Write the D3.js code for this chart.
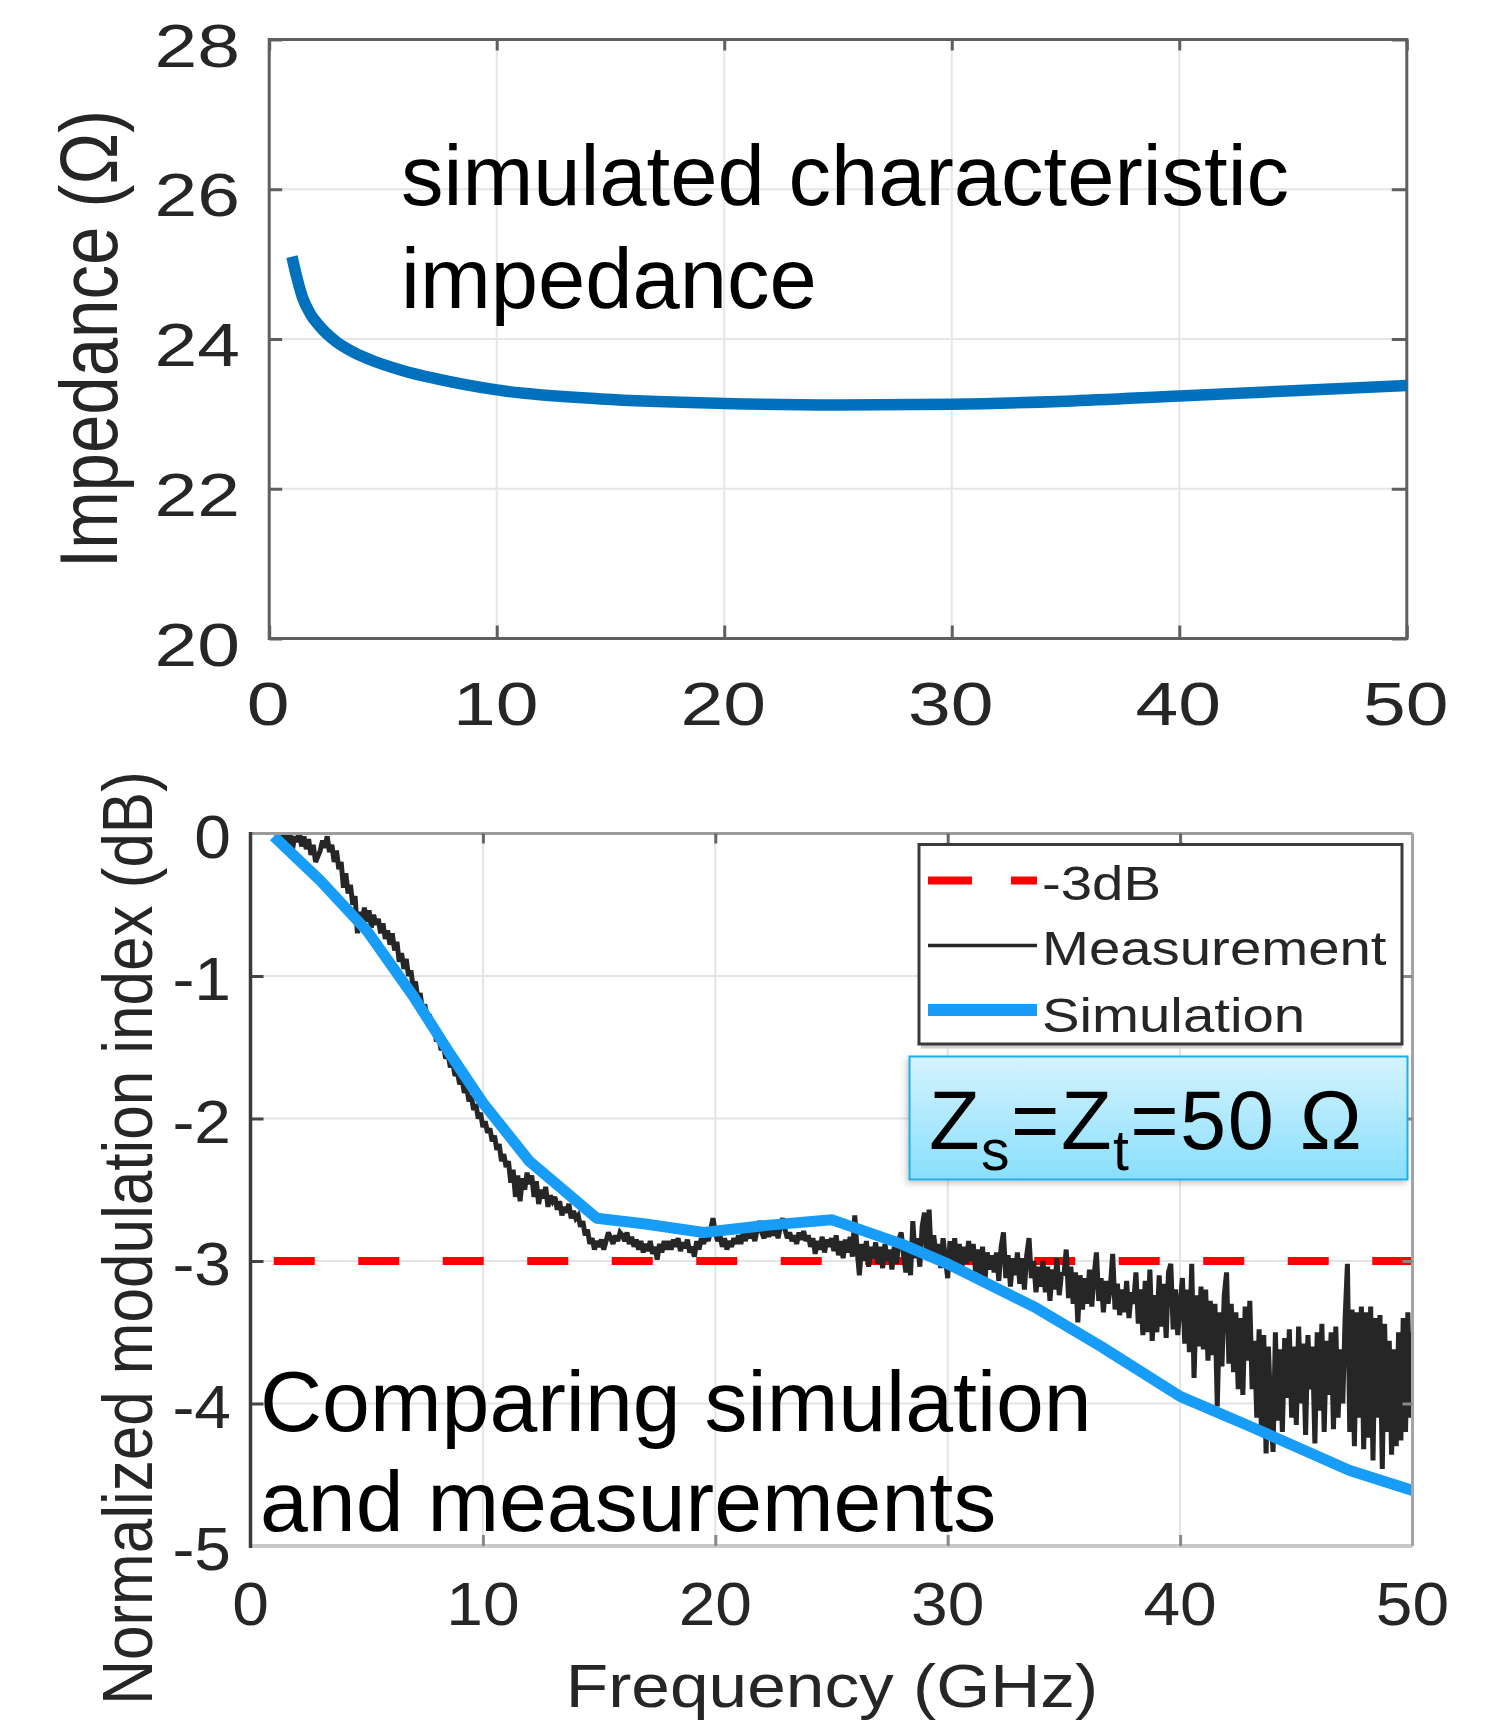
<!DOCTYPE html>
<html><head><meta charset="utf-8">
<script src="https://cdn.jsdelivr.net/npm/d3@7/dist/d3.min.js"></script>
<style>body{margin:0;background:#fff} svg{display:block} text{font-family:"Liberation Sans",Arial,Helvetica,sans-serif}</style>
</head><body><svg id="c" width="1496" height="1720"></svg>
<script>
// ---------- data ----------
const xTicks=[0,10,20,30,40,50];
const zTicks=[20,22,24,26,28];
const dbTicks=[0,-1,-2,-3,-4,-5];
const impFreq=[1,1.2,1.46,1.8,2.19,2.92,3.6,4.39,5.85,7.32,10,14.6,20,25,30,35,40,45,50];
const impVal=[25.1,24.84,24.56,24.34,24.18,23.97,23.84,23.73,23.58,23.47,23.32,23.2,23.14,23.12,23.13,23.17,23.24,23.31,23.38];
const simFreq=[1,3,5,7,8.6,10,12,14.9,17,19.5,22.2,25,28,30,33.7,36.6,40,43,47.3,50];
const simVal=[-0.02,-0.33,-0.68,-1.14,-1.55,-1.89,-2.3,-2.7,-2.74,-2.8,-2.75,-2.71,-2.88,-3.02,-3.32,-3.6,-3.95,-4.16,-4.47,-4.61];
const refLevel=-3, refStart=1, refEnd=50;
const measStart=1, measStep=0.1;
const measVal=[
-0.01,0.02,-0.06,0.01,-0.09,0.02,-0.1,0.0,-0.12,-0.02,
-0.06,0.01,-0.09,-0.02,-0.11,-0.04,-0.15,-0.08,-0.2,-0.16,
-0.12,-0.05,-0.1,-0.02,-0.13,-0.08,-0.2,-0.12,-0.25,-0.2,
-0.38,-0.28,-0.42,-0.36,-0.5,-0.44,-0.7,-0.55,-0.62,-0.52,
-0.62,-0.54,-0.66,-0.57,-0.64,-0.6,-0.7,-0.63,-0.74,-0.68,
-0.78,-0.7,-0.82,-0.76,-0.9,-0.84,-0.95,-0.88,-1.0,-0.96,
-1.08,-1.04,-1.16,-1.12,-1.24,-1.2,-1.3,-1.27,-1.36,-1.33,
-1.46,-1.42,-1.52,-1.49,-1.58,-1.55,-1.64,-1.6,-1.7,-1.67,
-1.76,-1.72,-1.82,-1.78,-1.88,-1.84,-1.94,-1.9,-2.0,-1.96,
-2.06,-2.02,-2.1,-2.07,-2.16,-2.12,-2.22,-2.18,-2.3,-2.25,
-2.34,-2.3,-2.45,-2.36,-2.55,-2.4,-2.58,-2.42,-2.5,-2.38,
-2.46,-2.4,-2.55,-2.44,-2.6,-2.5,-2.56,-2.48,-2.62,-2.54,
-2.58,-2.55,-2.64,-2.58,-2.68,-2.62,-2.66,-2.6,-2.7,-2.65,
-2.7,-2.68,-2.76,-2.72,-2.82,-2.78,-2.88,-2.84,-2.92,-2.86,
-2.9,-2.85,-2.92,-2.86,-2.8,-2.84,-2.88,-2.82,-2.86,-2.8,
-2.82,-2.86,-2.8,-2.88,-2.83,-2.9,-2.85,-2.92,-2.86,-2.94,
-2.88,-2.93,-2.86,-2.95,-2.9,-2.99,-2.88,-2.94,-2.86,-2.92,
-2.86,-2.92,-2.85,-2.9,-2.84,-2.93,-2.87,-2.91,-2.85,-2.94,
-2.9,-2.97,-2.86,-2.92,-2.84,-2.88,-2.82,-2.86,-2.78,-2.7,
-2.8,-2.86,-2.82,-2.9,-2.84,-2.92,-2.86,-2.9,-2.84,-2.88,
-2.82,-2.88,-2.8,-2.86,-2.78,-2.84,-2.8,-2.86,-2.78,-2.72,
-2.8,-2.84,-2.78,-2.83,-2.77,-2.82,-2.78,-2.84,-2.76,-2.7,
-2.78,-2.84,-2.8,-2.86,-2.82,-2.88,-2.8,-2.85,-2.79,-2.86,
-2.82,-2.9,-2.84,-2.95,-2.86,-2.92,-2.83,-2.94,-2.85,-2.9,
-2.84,-2.93,-2.82,-2.96,-2.86,-2.98,-2.85,-2.94,-2.83,-2.97,
-2.68,-2.92,-3.1,-2.88,-3.0,-2.86,-3.04,-2.9,-2.98,-2.87,
-3.02,-2.9,-3.05,-2.88,-3.0,-2.92,-3.06,-2.9,-3.02,-2.85,
-2.8,-2.96,-3.08,-2.9,-3.1,-2.72,-2.98,-2.84,-3.04,-2.76,
-2.66,-2.95,-2.64,-3.0,-2.82,-2.96,-2.88,-3.05,-2.84,-2.98,
-3.12,-2.86,-3.0,-2.84,-3.04,-2.88,-3.06,-2.9,-3.02,-2.86,
-3.0,-2.88,-3.08,-2.92,-3.1,-2.9,-3.14,-2.94,-3.06,-2.96,
-3.08,-2.94,-3.14,-2.9,-2.8,-3.12,-2.96,-3.18,-2.98,-3.1,
-2.94,-3.16,-2.98,-3.2,-2.96,-2.84,-3.12,-3.0,-3.22,-3.04,
-3.18,-3.0,-3.22,-3.04,-3.28,-3.06,-3.2,-2.98,-3.24,-3.08,
-3.1,-2.92,-3.26,-3.04,-3.3,-3.08,-3.43,-3.1,-3.34,-3.12,
-3.3,-3.06,-3.32,-3.1,-2.94,-3.28,-3.12,-3.36,-3.14,-3.3,
-3.18,-2.95,-3.34,-3.16,-3.38,-3.2,-3.36,-3.14,-3.4,-3.22,
-3.3,-3.08,-3.44,-3.2,-3.52,-3.14,-3.5,-3.06,-3.56,-3.24,
-3.5,-3.1,-3.46,-3.16,-3.54,-3.08,-3.02,-3.48,-3.2,-3.52,
-3.3,-3.12,-3.58,-3.2,-3.64,-3.02,-3.82,-3.24,-3.6,-3.18,
-3.62,-3.2,-3.7,-3.28,-3.66,-3.3,-4.02,-3.36,-3.74,-3.24,
-3.08,-3.72,-3.3,-3.78,-3.36,-3.9,-3.4,-3.94,-3.32,-3.7,
-3.28,-3.9,-3.56,-4.1,-3.48,-4.2,-3.52,-4.35,-3.6,-4.05,
-4.34,-3.5,-4.12,-3.62,-4.2,-3.54,-3.96,-3.48,-4.1,-3.6,
-4.15,-3.46,-4.0,-3.58,-4.22,-3.52,-3.9,-3.6,-4.28,-3.5,
-4.05,-3.44,-4.2,-3.56,-3.94,-3.5,-4.18,-3.46,-4.1,-3.62,
-4.0,-3.4,-3.02,-4.2,-3.34,-4.3,-3.36,-4.1,-3.32,-4.32,
-3.36,-4.24,-3.32,-4.4,-3.4,-4.1,-3.38,-4.46,-3.44,-4.2,
-3.56,-4.36,-3.62,-4.3,-3.5,-4.26,-3.4,-4.2,-3.36,-4.1,
-3.5];
const legendLabels=["-3dB","Measurement","Simulation"];

// ---------- drawing ----------
const svg=d3.select('#c');
const TXT='#262626';
function lbl(g,x,y,t,size,sx,anchor,fill){
  return g.append('text').attr('transform',`translate(${x},${y}) scale(${sx},1)`)
   .attr('text-anchor',anchor).attr('font-size',size).attr('fill',fill||TXT).text(t);
}
function ticks(g,axis,tr,color,w){
  const a=g.append('g').attr('transform',tr).call(axis);
  a.select('.domain').remove();
  a.selectAll('.tick line').attr('stroke',color).attr('stroke-width',w);
  a.selectAll('.tick text').remove();
}
const defs=svg.append('defs');

// ===== top chart =====
const xT=d3.scaleLinear().domain([0,50]).range([269.2,1406.8]);
const yT=d3.scaleLinear().domain([20,28]).range([638.5,39.5]);
const gT=svg.append('g');
gT.selectAll('.gx').data(xTicks.slice(1,-1)).join('line')
  .attr('x1',d=>xT(d)).attr('x2',d=>xT(d)).attr('y1',yT(20)).attr('y2',yT(28))
  .attr('stroke','#e6e6e6').attr('stroke-width',2);
gT.selectAll('.gy').data(zTicks.slice(1,-1)).join('line')
  .attr('y1',d=>yT(d)).attr('y2',d=>yT(d)).attr('x1',xT(0)).attr('x2',xT(50))
  .attr('stroke','#e6e6e6').attr('stroke-width',2);
const tc='#5f5f5f';
ticks(gT,d3.axisBottom(xT).tickValues(xTicks).tickSize(-13).tickSizeOuter(0),`translate(0,${yT(20)})`,tc,3);
ticks(gT,d3.axisTop(xT).tickValues(xTicks).tickSize(-11).tickSizeOuter(0),`translate(0,${yT(28)})`,tc,3);
ticks(gT,d3.axisLeft(yT).tickValues(zTicks).tickSize(-13).tickSizeOuter(0),`translate(${xT(0)},0)`,tc,3);
ticks(gT,d3.axisRight(yT).tickValues(zTicks).tickSize(-15).tickSizeOuter(0),`translate(${xT(50)},0)`,tc,3);
gT.append('rect').attr('x',xT(0)).attr('y',yT(28)).attr('width',xT(50)-xT(0)).attr('height',yT(20)-yT(28))
  .attr('fill','none').attr('stroke',tc).attr('stroke-width',3);
gT.append('path').datum(impFreq.map((f,i)=>[f,impVal[i]]))
  .attr('d',d3.line().x(d=>xT(d[0])).y(d=>yT(d[1])).curve(d3.curveMonotoneX))
  .attr('fill','none').attr('stroke','#0072bd').attr('stroke-width',11.5);
zTicks.forEach(t=>lbl(gT,240,yT(t)+27,t,62,1.24,'end'));
xTicks.forEach(t=>lbl(gT,xT(t)-1,725,t,62,1.24,'middle'));
gT.append('text').attr('transform','translate(117,339) rotate(-90) scale(1,1.19)')
  .attr('text-anchor','middle').attr('font-size',69).attr('fill',TXT).text('Impedance (\u03A9)');
const ann1=gT.append('text').attr('font-size',85).attr('fill','#000');
ann1.append('tspan').attr('x',401).attr('y',205).text('simulated characteristic');
ann1.append('tspan').attr('x',401).attr('y',308).text('impedance');

// ===== bottom chart =====
const xB=d3.scaleLinear().domain([0,50]).range([250.5,1412.5]);
const yB=d3.scaleLinear().domain([-5,0]).range([1546,833.5]);
const gB=svg.append('g');
gB.selectAll('.gx').data(xTicks.slice(1,-1)).join('line')
  .attr('x1',d=>xB(d)).attr('x2',d=>xB(d)).attr('y1',yB(-5)).attr('y2',yB(0))
  .attr('stroke','#e4e4e4').attr('stroke-width',2);
gB.selectAll('.gy').data(dbTicks.slice(1,-1)).join('line')
  .attr('y1',d=>yB(d)).attr('y2',d=>yB(d)).attr('x1',xB(0)).attr('x2',xB(50))
  .attr('stroke','#e4e4e4').attr('stroke-width',2);
defs.append('clipPath').attr('id','clipB').append('rect')
  .attr('x',xB(0)).attr('y',yB(0)).attr('width',xB(50)-xB(0)).attr('height',yB(-5)-yB(0));
const plotB=gB.append('g').attr('clip-path','url(#clipB)');
plotB.append('line').attr('x1',xB(refStart)).attr('x2',xB(refEnd)).attr('y1',yB(refLevel)).attr('y2',yB(refLevel))
  .attr('stroke','#ff0000').attr('stroke-width',8).attr('stroke-dasharray','41,43.5');
plotB.append('path').datum(measVal.map((v,i)=>[measStart+i*measStep,v]))
  .attr('d',d3.line().x(d=>xB(d[0])).y(d=>yB(d[1])))
  .attr('fill','none').attr('stroke','#262626').attr('stroke-width',5).attr('stroke-linejoin','miter').attr('stroke-miterlimit',2.5);
plotB.append('path').datum(simFreq.map((f,i)=>[f,simVal[i]]))
  .attr('d',d3.line().x(d=>xB(d[0])).y(d=>yB(d[1])))
  .attr('fill','none').attr('stroke','#179df8').attr('stroke-width',11).attr('stroke-linejoin','round');
// axes frame
gB.append('line').attr('x1',xB(0)).attr('x2',xB(50)).attr('y1',yB(-5)).attr('y2',yB(-5)).attr('stroke','#c8c8c8').attr('stroke-width',4);
gB.append('line').attr('x1',xB(0)).attr('x2',xB(50)).attr('y1',yB(0)).attr('y2',yB(0)).attr('stroke','#9c9c9c').attr('stroke-width',3);
gB.append('line').attr('x1',xB(50)).attr('x2',xB(50)).attr('y1',yB(0)).attr('y2',yB(-5)).attr('stroke','#a4a4a4').attr('stroke-width',3);
ticks(gB,d3.axisBottom(xB).tickValues(xTicks.slice(1,-1)).tickSize(-11).tickSizeOuter(0),`translate(0,${yB(-5)})`,'#888',3);
ticks(gB,d3.axisTop(xB).tickValues(xTicks.slice(1,-1)).tickSize(-10).tickSizeOuter(0),`translate(0,${yB(0)})`,'#666',3);
ticks(gB,d3.axisLeft(yB).tickValues(dbTicks.slice(1,-1)).tickSize(-13).tickSizeOuter(0),`translate(${xB(0)},0)`,'#444',3);
ticks(gB,d3.axisRight(yB).tickValues(dbTicks.slice(1,-1)).tickSize(-10).tickSizeOuter(0),`translate(${xB(50)},0)`,'#888',3);
gB.append('line').attr('x1',xB(0)).attr('x2',xB(0)).attr('y1',yB(0)-1.5).attr('y2',yB(-5)+2).attr('stroke','#3a3a3a').attr('stroke-width',3.5);
dbTicks.forEach(t=>lbl(gB,231,yB(t)+24,t,61,1.08,'end'));
xTicks.forEach(t=>lbl(gB,xB(t),1625,t,61,1.08,'middle'));
lbl(gB,832,1707,'Frequency (GHz)',62,1.12,'middle');
gB.append('text').attr('transform','translate(152,1238) rotate(-90) scale(1,1.13)')
  .attr('text-anchor','middle').attr('font-size',62).attr('fill',TXT).text('Normalized modulation index (dB)');

// legend
const lg=gB.append('g');
lg.append('line').attr('x1',921).attr('x2',1402).attr('y1',1046.5).attr('y2',1046.5).attr('stroke','#cfcfcf').attr('stroke-width',4);
lg.append('rect').attr('x',919).attr('y',844.5).attr('width',483).attr('height',199.5)
  .attr('fill','#fff').attr('stroke','#3a3a3a').attr('stroke-width',3);
const legY=[880.5,945.5,1010];
lg.append('line').attr('x1',928).attr('x2',1037).attr('y1',legY[0]).attr('y2',legY[0])
  .attr('stroke','#ff0000').attr('stroke-width',8).attr('stroke-dasharray','44,39');
lg.append('line').attr('x1',928).attr('x2',1037).attr('y1',legY[1]).attr('y2',legY[1])
  .attr('stroke','#262626').attr('stroke-width',3.5);
lg.append('line').attr('x1',928).attr('x2',1037).attr('y1',legY[2]).attr('y2',legY[2])
  .attr('stroke','#179df8').attr('stroke-width',12);
legendLabels.forEach((t,i)=>lbl(lg,1042,[900,965,1031.5][i],t,49,1.15,'start'));

// Z annotation box
const grad=defs.append('linearGradient').attr('id','bg').attr('x1',0).attr('x2',0).attr('y1',0).attr('y2',1);
grad.append('stop').attr('offset','0%').attr('stop-color','#d6f3fe');
grad.append('stop').attr('offset','100%').attr('stop-color','#88dffc');
const sh=defs.append('filter').attr('id','sh').attr('x','-10%').attr('y','-20%').attr('width','130%').attr('height','150%');
sh.append('feDropShadow').attr('dx',-2).attr('dy',3).attr('stdDeviation',3).attr('flood-color','#000').attr('flood-opacity',0.22);
gB.append('rect').attr('x',909.5).attr('y',1056.5).attr('width',498).attr('height',123)
  .attr('fill','url(#bg)').attr('stroke','#1eaee6').attr('stroke-width',2).attr('filter','url(#sh)');
const zt=gB.append('text').attr('x',929).attr('y',1149).attr('font-size',83).attr('letter-spacing',1.4).attr('fill','#000');
zt.append('tspan').text('Z');
zt.append('tspan').attr('font-size',57).attr('dy',21).text('s');
zt.append('tspan').attr('dy',-21).text('=Z');
zt.append('tspan').attr('font-size',57).attr('dy',21).text('t');
zt.append('tspan').attr('dy',-21).text('=50 \u03A9');

const ann2=gB.append('text').attr('font-size',86).attr('fill','#000');
ann2.append('tspan').attr('x',260).attr('y',1431).text('Comparing simulation');
ann2.append('tspan').attr('x',260).attr('y',1531).text('and measurements');
</script></body></html>
